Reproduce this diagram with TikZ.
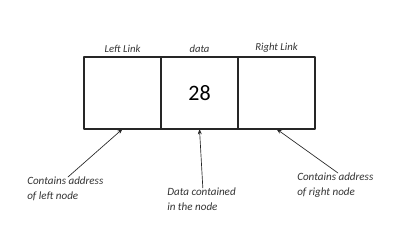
\documentclass[tikz,border=0pt]{standalone}
\usepackage{fontspec}
\setmainfont{Carlito}
\usetikzlibrary{positioning,arrows.meta}
\begin{document}
\begin{tikzpicture}[
    x=0.75pt,
    y=-0.75pt,
    line cap=round,
    line join=round,
    cell/.style={
        draw=black!85,
        line width=0.9pt,
        minimum width=57.75pt,
        minimum height=54pt,
        inner sep=0pt,
        outer sep=0pt
    },
    toplabel/.style={
        font=\fontsize{8}{9.5}\selectfont\itshape,
        text=black!80,
        inner sep=1pt
    },
    note/.style={
        font=\fontsize{8.3}{10.8}\selectfont\itshape,
        text=black!80,
        align=left,
        inner sep=0pt
    },
    pointer/.style={
        -{Stealth[length=4pt,width=3pt]},
        draw=black!85,
        line width=0.5pt
    }
]

\useasboundingbox (0,0) rectangle (400,247);

% -------------------------------------------------
% The three fields of the node
% -------------------------------------------------

\node[cell] (leftcell) at (122.5,93) {};
\node[cell, right=0pt of leftcell] (datacell)
    {\fontsize{16.5}{18}\selectfont 28};
\node[cell, right=0pt of datacell] (rightcell) {};

% -------------------------------------------------
% Field names
% -------------------------------------------------

\node[toplabel, above=2pt of leftcell.north] (leftname) {Left Link};
\node[toplabel, above=2pt of datacell.north] (dataname) {data};
\node[toplabel, above=2pt of rightcell.north] (rightname) {Right Link};

% -------------------------------------------------
% Notes below
% -------------------------------------------------

\node[note, anchor=north west] (leftnote) at (27,177)
    {Contains address\\of left node};
\node[note, anchor=north west] (datanote) at (167,188)
    {Data contained\\in the node};
\node[note, anchor=north west] (rightnote) at (297,173)
    {Contains address\\of right node};

% -------------------------------------------------
% Pointers
% -------------------------------------------------

\draw[pointer] ([xshift=2pt]leftnote.north) -- (leftcell.south);
\draw[pointer] ([xshift=1pt]datanote.north) -- (datacell.south);
\draw[pointer] ([xshift=2pt]rightnote.north) -- (rightcell.south);

\end{tikzpicture}
\end{document}
